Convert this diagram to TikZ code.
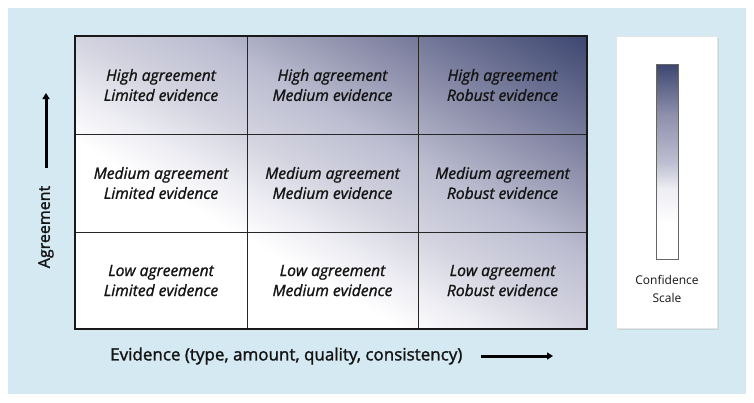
\documentclass[tikz,border=0pt]{standalone}
\usepackage{fontspec}
\setmainfont{Open Sans}
\newfontfamily\cellfont{Open Sans}[FakeBold=1.3]
\newfontfamily\labfont{Open Sans}[FakeBold=1.5]
\usetikzlibrary{arrows.meta,shadows}
\definecolor{bgblue}{HTML}{D4E9F1}
\definecolor{cA}{HTML}{EDEDF3}
\definecolor{cB}{HTML}{D3D3E0}
\definecolor{cC}{HTML}{BCBDD0}
\definecolor{cD}{HTML}{8E90AC}
\definecolor{cE}{HTML}{3C4670}
\definecolor{txt}{HTML}{141414}
\pgfdeclarehorizontalshading{gridshade}{100bp}{color(0bp)=(white); color(41bp)=(white); color(45bp)=(cA); color(50bp)=(cB); color(56bp)=(cC); color(63bp)=(cD); color(75bp)=(cE); color(100bp)=(cE)}
\pgfdeclareverticalshading{barshade}{100bp}{color(0bp)=(white); color(34bp)=(white); color(43bp)=(cA); color(50bp)=(cC); color(62bp)=(cD); color(75bp)=(cE); color(100bp)=(cE)}
\tikzset{
  cell/.style={draw=black!85, line width=0.8bp, inner sep=0pt, align=center,
    font=\cellfont\fontsize{15.6bp}{20bp}\selectfont\itshape, text=txt},
  axislabel/.style={font=\labfont\fontsize{16bp}{18bp}\selectfont, text=txt, inner sep=0pt},
  axisarrow/.style={line width=3bp, -{Triangle[length=6bp,width=7bp]}},
}
\begin{document}
\begin{tikzpicture}[x=1bp,y=-1bp]
\useasboundingbox (0,0) rectangle (754,402);
\fill[white] (0,0) rectangle (754,402);
\fill[bgblue] (8,8) rectangle (746,394);
% shaded grid background: iso-lines parallel to the anti-diagonal
\begin{scope}
  \clip (75,36) rectangle (587,329);
  \begin{scope}[transform canvas={cm={256,146.5,-256,146.5,(75bp,-329bp)}}, x=1bp, y=1bp]
    \shade[shading=gridshade] (0,-1) rectangle (2,1);
  \end{scope}
\end{scope}
% cells
\node[cell, minimum width=172bp, minimum height=98bp] (c11) at (161,85) {High agreement\\Limited evidence};
\node[cell, minimum width=171bp, minimum height=98bp] (c12) at (332.5,85) {High agreement\\Medium evidence};
\node[cell, minimum width=169bp, minimum height=98bp] (c13) at (502.5,85) {High agreement\\Robust evidence};
\node[cell, minimum width=172bp, minimum height=98bp] (c21) at (161,183) {Medium agreement\\Limited evidence};
\node[cell, minimum width=171bp, minimum height=98bp] (c22) at (332.5,183) {Medium agreement\\Medium evidence};
\node[cell, minimum width=169bp, minimum height=98bp] (c23) at (502.5,183) {Medium agreement\\Robust evidence};
\node[cell, minimum width=172bp, minimum height=97bp] (c31) at (161,280.5) {Low agreement\\Limited evidence};
\node[cell, minimum width=171bp, minimum height=97bp] (c32) at (332.5,280.5) {Low agreement\\Medium evidence};
\node[cell, minimum width=169bp, minimum height=97bp] (c33) at (502.5,280.5) {Low agreement\\Robust evidence};
\draw[line width=2bp, black!90] (c11.north west) rectangle (c33.south east);
% axis labels
\node[axislabel, rotate=90] (agr) at (46,227) {Agreement};
\coordinate (agrbase) at (46,168);
\coordinate (agrtip) at (46,93);
\draw[axisarrow] (agrbase) -- (agrtip);
\node[axislabel, font=\labfont\fontsize{17bp}{18bp}\selectfont, anchor=west] (evi) at (110,356) {Evidence (type, amount, quality, consistency)};
\coordinate (evibase) at (481,356);
\coordinate (evitip) at (553,356);
\draw[axisarrow] (evibase) -- (evitip);
% confidence scale
\node[fill=white, draw=black!10, line width=0.5bp, minimum width=101bp, minimum height=292bp, inner sep=0pt,
  drop shadow={opacity=0.18, shadow xshift=1.5bp, shadow yshift=-1.5bp}] (scalebox) at (666.5,182) {};
\shade[shading=barshade] (656,64) rectangle (678,259);
\node[draw=black!60, line width=0.8bp, minimum width=22bp, minimum height=195bp, inner sep=0pt] (bar) at (667,161.5) {};
\node[align=center, font=\fontsize{12bp}{18bp}\selectfont, text=txt, inner sep=0pt] (conf) at (667,289) {Confidence\\Scale};
\end{tikzpicture}
\end{document}
